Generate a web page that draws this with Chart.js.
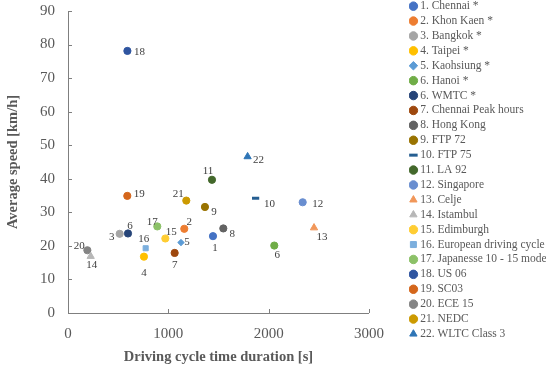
<!DOCTYPE html>
<html>
<head>
<meta charset="utf-8">
<script src="https://cdn.jsdelivr.net/npm/chart.js@4.4.1/dist/chart.umd.min.js"></script>
<style>
  html, body { margin: 0; padding: 0; background: #fff; }
  #wrap { width: 550px; height: 366px; position: relative; }
</style>
</head>
<body>
<div id="wrap"><canvas id="chart"></canvas></div>
<script>
// Driving cycles: name, number shown next to the point, duration [s], average speed [km/h]
const cycleNames = [
    '1. Chennai *', '2. Khon Kaen *', '3. Bangkok *', '4. Taipei *', '5. Kaohsiung *',
    '6. Hanoi *', '6. WMTC *', '7. Chennai Peak hours', '8. Hong Kong', '9. FTP 72',
    '10. FTP 75', '11. LA 92', '12. Singapore', '13. Celje', '14. Istambul',
    '15. Edimburgh', '16. European driving cycle', '17. Japanesse 10 - 15 mode',
    '18. US 06', '19. SC03', '20. ECE 15', '21. NEDC', '22. WLTC Class 3'
];
const pointNumbers = ['1', '2', '3', '4', '5', '6', '6', '7', '8', '9', '10', '11', '12',
    '13', '14', '15', '16', '17', '18', '19', '20', '21', '22'];
const durations = [1445, 1159, 515, 757, 1126, 2056, 598, 1063, 1548, 1365,
    1870, 1435, 2339, 2452, 226, 970, 774, 890, 592, 591, 193, 1179, 1790];
const speeds = [22.9, 25.1, 23.6, 16.8, 21.0, 20.1, 23.7, 17.9, 25.2, 31.6,
    34.2, 39.7, 33.0, 25.4, 16.9, 22.2, 19.3, 25.8, 78.1, 34.9, 18.7, 33.5, 46.6];
const xTicks = [0, 1000, 2000, 3000];

// styling
const colors = ['#4472C4', '#ED7D31', '#A5A5A5', '#FFC000', '#5B9BD5', '#70AD47', '#264478',
    '#9E480E', '#636363', '#997300', '#255E91', '#43682B', '#698ED0', '#F1975A', '#B7B7B7',
    '#FFCD33', '#7CAFDD', '#8CC168', '#2F55A0', '#D4661B', '#848484', '#CC9A00', '#2E75B6'];
const markers = ['circle', 'circle', 'circle', 'circle', 'rectRot', 'circle', 'circle',
    'circle', 'circle', 'circle', 'line', 'circle', 'circle', 'triangle', 'triangle',
    'circle', 'rect', 'circle', 'circle', 'circle', 'circle', 'circle', 'triangle'];
const labelOffsets = [[2, 12], [5, -7], [-8, 3], [0, 16], [6, 0], [3, 10], [2, -7], [0, 12],
    [9, 6], [9, 5], [14, 6], [-4, -9], [15, 2], [8, 9], [1, 9], [6, -6], [-2, -9], [-5, -4],
    [12, 1], [12, -2], [-8, -4], [-8, -6], [11, 3]];

const serif = '"Liberation Serif", "Times New Roman", serif';
const grey = '#595959';

const datasets = cycleNames.map((name, i) => ({
    label: name,
    data: [{ x: durations[i], y: speeds[i] }],
    backgroundColor: colors[i],
    borderColor: colors[i],
    borderWidth: markers[i] === 'line' ? 3 : 1,
    pointStyle: markers[i],
    pointRadius: markers[i] === 'rectRot' ? 3.2 : (markers[i] === 'triangle' ? 4.2 : 3.6),
    pointHoverRadius: 4
}));

// numbers next to the points
const pointLabels = {
    id: 'pointLabels',
    afterDatasetsDraw(chart) {
        const ctx = chart.ctx;
        ctx.save();
        ctx.font = '11px ' + serif;
        ctx.fillStyle = '#404040';
        ctx.textAlign = 'center';
        ctx.textBaseline = 'middle';
        chart.data.datasets.forEach((ds, i) => {
            const pt = chart.getDatasetMeta(i).data[0];
            ctx.fillText(pointNumbers[i], pt.x + labelOffsets[i][0], pt.y + labelOffsets[i][1]);
        });
        ctx.restore();
    }
};

// Excel-like axes: plain lines with tick marks pointing inwards
const insideTicks = {
    id: 'insideTicks',
    afterDraw(chart) {
        const { ctx, chartArea: a, scales: { x, y } } = chart;
        ctx.save();
        ctx.strokeStyle = '#7f7f7f';
        ctx.lineWidth = 1;
        ctx.beginPath();
        ctx.moveTo(a.left + 0.5, a.top);
        ctx.lineTo(a.left + 0.5, a.bottom + 0.5);
        ctx.lineTo(a.right, a.bottom + 0.5);
        x.ticks.forEach(t => {
            const px = Math.round(x.getPixelForValue(t.value)) + 0.5;
            ctx.moveTo(px, a.bottom);
            ctx.lineTo(px, a.bottom - 4);
        });
        y.ticks.forEach(t => {
            const py = Math.round(y.getPixelForValue(t.value)) + 0.5;
            ctx.moveTo(a.left, py);
            ctx.lineTo(a.left + 4, py);
        });
        ctx.stroke();
        ctx.restore();
    }
};

// push the legend towards the right edge so there is a gap after the plot area
const legendToEdge = {
    id: 'legendToEdge',
    afterLayout(chart) {
        const lg = chart.legend;
        if (!lg) return;
        const shift = chart.width - 4 - lg.right;
        lg.left += shift;
        lg.right += shift;
    }
};

new Chart(document.getElementById('chart'), {
    type: 'scatter',
    data: { datasets },
    plugins: [pointLabels, insideTicks, legendToEdge],
    options: {
        responsive: true,
        maintainAspectRatio: false,
        animation: false,
        layout: { padding: { top: -3, left: 0, right: 2, bottom: 0 } },
        plugins: {
            tooltip: { enabled: false },
            legend: {
                position: 'right',
                align: 'start',
                labels: {
                    usePointStyle: true,
                    boxHeight: 6,
                    boxWidth: 2,
                    padding: 3.4,
                    color: grey,
                    font: { family: serif, size: 11.5 }
                }
            }
        },
        scales: {
            x: {
                type: 'linear',
                min: 0,
                max: 3000,
                afterBuildTicks: s => { s.ticks = xTicks.map(v => ({ value: v })); },
                afterFit: s => { s.height = 53; s.paddingRight = 181; },
                grid: { display: false, drawTicks: false },
                border: { display: false },
                ticks: {
                    color: grey,
                    padding: 12,
                    font: { family: serif, size: 15 },
                    callback: v => String(v)
                },
                title: {
                    display: true,
                    text: 'Driving cycle time duration [s]',
                    color: grey,
                    padding: { top: 4, bottom: 0 },
                    font: { family: serif, size: 14.5, weight: 'bold' }
                }
            },
            y: {
                min: 0,
                max: 90,
                afterFit: s => { s.width = 68; s.paddingTop = 11; },
                grid: { display: false, drawTicks: false },
                border: { display: false },
                ticks: { stepSize: 10, color: grey, padding: 13, font: { family: serif, size: 15 } },
                title: {
                    display: true,
                    text: 'Average speed [km/h]',
                    color: grey,
                    padding: { top: 5, bottom: 0 },
                    font: { family: serif, size: 14.5, weight: 'bold' }
                }
            }
        }
    }
});
</script>
</body>
</html>
